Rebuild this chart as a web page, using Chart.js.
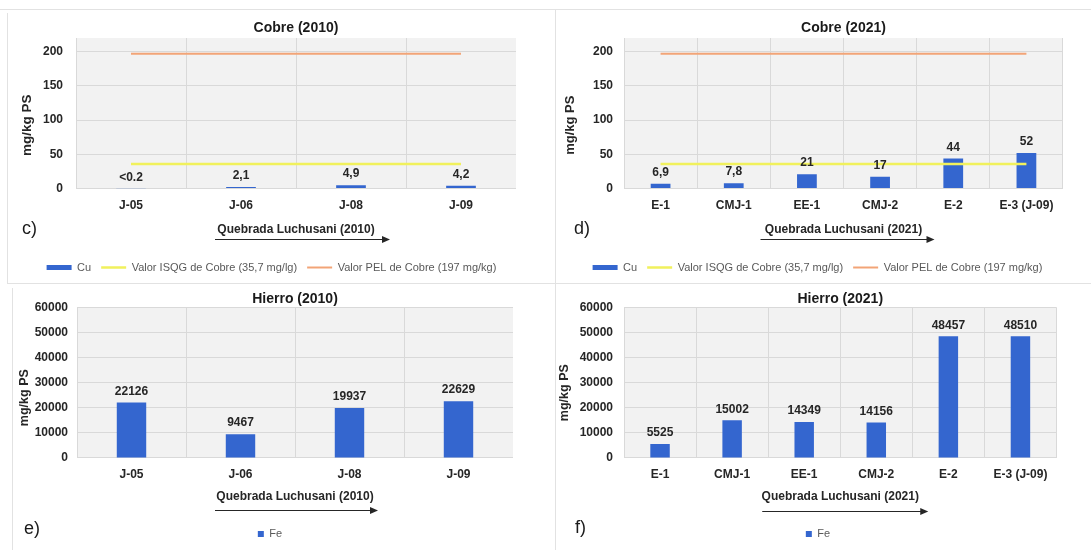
<!DOCTYPE html>
<html>
<head>
<meta charset="utf-8">
<script src="https://cdn.jsdelivr.net/npm/chart.js@4.4.1/dist/chart.umd.min.js"></script>
<style>
  body { margin: 0; background: #fff; width: 1091px; height: 550px; position: relative; overflow: hidden;
         font-family: "Liberation Sans", Arial, sans-serif; }
  canvas { position: absolute; }
  .line { position: absolute; background: #e2e2e2; }
  .tag { position: absolute; font-size: 18px; line-height: 20px; color: #1a1a1a; }
</style>
</head>
<body>
<div class="line" style="left:0;top:9px;width:1091px;height:1px"></div>
<div class="line" style="left:7px;top:13px;width:1px;height:270px"></div>
<div class="line" style="left:555px;top:9px;width:1px;height:541px"></div>
<div class="line" style="left:7px;top:283px;width:1084px;height:1px"></div>
<div class="line" style="left:12px;top:288px;width:1px;height:262px"></div>

<canvas id="cu2010" width="509" height="278" style="left:7px;top:12px"></canvas>
<canvas id="cu2021" width="506" height="278" style="left:557px;top:12px"></canvas>
<canvas id="fe2010" width="506" height="266" style="left:7px;top:284px"></canvas>
<canvas id="fe2021" width="500" height="266" style="left:557px;top:284px"></canvas>

<div class="tag" style="left:22px;top:218px">c)</div>
<div class="tag" style="left:574px;top:218px">d)</div>
<div class="tag" style="left:24px;top:518px">e)</div>
<div class="tag" style="left:575px;top:517px">f)</div>

<script>
// sampling sites
const sites2010 = ["J-05", "J-06", "J-08", "J-09"];
const sites2021 = ["E-1", "CMJ-1", "EE-1", "CMJ-2", "E-2", "E-3 (J-09)"];

// copper (mg/kg PS) and the printed labels
const cu2010 = [0.2, 2.1, 4.9, 4.2];
const cu2010Text = ["<0.2", "2,1", "4,9", "4,2"];
const cu2021 = [6.9, 7.8, 21, 17, 44, 52];
const cu2021Text = ["6,9", "7,8", "21", "17", "44", "52"];

// iron (mg/kg PS)
const fe2010 = [22126, 9467, 19937, 22629];
const fe2021 = [5525, 15002, 14349, 14156, 48457, 48510];

// guideline values for copper
const isqgCu = 35.7;
const pelCu = 197;

// y tick labels
const cuTicks = [0, 50, 100, 150, 200];
const feTicks = [0, 10000, 20000, 30000, 40000, 50000, 60000];

const FONT = '"Liberation Sans", Arial, sans-serif';
const BLUE = "#3466cf";

const plotBg = {
  id: "plotBg",
  beforeDraw(chart) {
    const { ctx, chartArea: a } = chart;
    ctx.save();
    ctx.fillStyle = "#f2f2f2";
    ctx.fillRect(a.left, a.top, a.right - a.left, a.bottom - a.top);
    ctx.restore();
  },
};

// numbers printed above the bars
const valueLabels = {
  id: "valueLabels",
  afterDatasetsDraw(chart, args, opts) {
    const { ctx } = chart;
    const meta = chart.getDatasetMeta(0);
    ctx.save();
    ctx.font = "bold 12px " + FONT;
    ctx.fillStyle = "#262626";
    ctx.textAlign = "center";
    ctx.textBaseline = "middle";
    meta.data.forEach((bar, i) => ctx.fillText(opts.text[i], bar.x, bar.y - 11));
    ctx.restore();
  },
};

// rotated y axis title, sits a bit below the middle like in the original
const yTitle = {
  id: "yTitle",
  afterDraw(chart, args, o) {
    const { ctx, chartArea: a } = chart;
    ctx.save();
    ctx.translate(o.x, (a.top + a.bottom) / 2 + o.dy);
    ctx.rotate(-Math.PI / 2);
    ctx.font = "bold " + o.size + "px " + FONT;
    ctx.fillStyle = "#262626";
    ctx.textAlign = "center";
    ctx.textBaseline = "middle";
    ctx.fillText("mg/kg PS", 0, 0);
    ctx.restore();
  },
};

// arrow under the x axis title
const arrow = {
  id: "arrow",
  afterDraw(chart, args, o) {
    const { ctx, chartArea: a } = chart;
    const cx = (a.left + a.right) / 2;
    const y = Math.round(a.bottom + o.dy) + 0.5;
    const x0 = cx + o.from, x1 = cx + o.to;
    ctx.save();
    ctx.strokeStyle = "#262626";
    ctx.fillStyle = "#262626";
    ctx.lineWidth = 1;
    ctx.beginPath();
    ctx.moveTo(x0, y);
    ctx.lineTo(x1 - 6, y);
    ctx.stroke();
    ctx.beginPath();
    ctx.moveTo(x1, y);
    ctx.lineTo(x1 - 8, y - 3.5);
    ctx.lineTo(x1 - 8, y + 3.5);
    ctx.closePath();
    ctx.fill();
    ctx.restore();
  },
};

function makeChart(id, c) {
  return new Chart(document.getElementById(id), {
    type: "bar",
    data: { labels: c.labels, datasets: c.datasets },
    options: {
      responsive: false,
      animation: false,
      layout: { padding: c.pad },
      plugins: {
        title: {
          display: true, text: c.title, fullSize: false, color: "#1a1a1a",
          font: { family: FONT, size: 14, weight: "bold" }, padding: c.titlePad,
        },
        legend: {
          position: "bottom",
          labels: Object.assign({
            color: "#595959", font: { family: FONT, size: 11 },
            sort: (a, b) => a.datasetIndex - b.datasetIndex,
          }, c.legend),
        },
        tooltip: { enabled: false },
        valueLabels: { text: c.text },
        yTitle: c.yTitle,
        arrow: c.arrow,
      },
      scales: {
        x: {
          grid: { offset: true, color: "#d9d9d9", drawTicks: false },
          border: { display: false },
          ticks: { color: "#262626", font: { family: FONT, size: 12, weight: "bold" }, padding: 9.5 },
          title: {
            display: true, text: c.xTitle, color: "#262626",
            font: { family: FONT, size: 12, weight: "bold" }, padding: c.xTitlePad,
          },
        },
        y: {
          min: 0, max: c.max,
          afterBuildTicks: (s) => { s.ticks = c.ticks.map((v) => ({ value: v })); },
          afterFit: (s) => { s.width = c.yWidth; },
          grid: { color: "#d9d9d9", drawTicks: false },
          border: { display: false },
          ticks: {
            color: "#262626", font: { family: FONT, size: 12, weight: "bold" }, padding: c.yPad,
            callback: (v) => String(v),
          },
        },
      },
    },
    plugins: [plotBg, valueLabels, yTitle, arrow],
  });
}

function cuSets(values, n) {
  return [
    { label: "Cu", data: values, backgroundColor: BLUE, pointStyle: "rect",
      barPercentage: 0.27, categoryPercentage: 1, order: 2 },
    { type: "line", label: "Valor ISQG de Cobre (35,7 mg/lg)", data: n.map(() => isqgCu),
      borderColor: "#f1f15c", backgroundColor: "#f1f15c", borderWidth: 2.5, pointRadius: 0,
      pointStyle: "line", order: 1 },
    { type: "line", label: "Valor PEL de Cobre (197 mg/kg)", data: n.map(() => pelCu),
      borderColor: "#f2a477", backgroundColor: "#f2a477", borderWidth: 2, pointRadius: 0,
      pointStyle: "line", order: 0 },
  ];
}

function feSets(values) {
  return [
    { label: "Fe", data: values, backgroundColor: BLUE, barPercentage: 0.27, categoryPercentage: 1 },
  ];
}

const cuLegend = { usePointStyle: true, pointStyleWidth: 25, boxHeight: 5, padding: 10 };
const feLegend = { boxWidth: 6, boxHeight: 6, padding: 8 };

makeChart("cu2010", {
  labels: sites2010, datasets: cuSets(cu2010, sites2010), text: cu2010Text,
  title: "Cobre (2010)", xTitle: "Quebrada Luchusani (2010)",
  max: 220, ticks: cuTicks, yWidth: 49, yPad: 13,
  pad: { left: 20, right: 0, top: 0, bottom: 7 },
  titlePad: { top: 7.6, bottom: 1.6 }, xTitlePad: { top: 0.4, bottom: 15.3 },
  legend: cuLegend, arrow: { dy: 50, from: -81, to: 94 },
  yTitle: { x: 20, dy: 12, size: 13.5 },
});

makeChart("cu2021", {
  labels: sites2021, datasets: cuSets(cu2021, sites2021), text: cu2021Text,
  title: "Cobre (2021)", xTitle: "Quebrada Luchusani (2021)",
  max: 220, ticks: cuTicks, yWidth: 52, yPad: 11,
  pad: { left: 15, right: 0, top: 0, bottom: 7 },
  titlePad: { top: 7.6, bottom: 1.6 }, xTitlePad: { top: 0.4, bottom: 15.3 },
  legend: cuLegend, arrow: { dy: 50, from: -83, to: 91 },
  yTitle: { x: 13, dy: 12, size: 13 },
});

makeChart("fe2010", {
  labels: sites2010, datasets: feSets(fe2010), text: fe2010.map(String),
  title: "Hierro (2010)", xTitle: "Quebrada Luchusani (2010)",
  max: 60000, ticks: feTicks, yWidth: 50, yPad: 9,
  pad: { left: 20, right: 0, top: 0, bottom: 0.5 },
  titlePad: { top: 6.6, bottom: 0 }, xTitlePad: { top: -1.5, bottom: 16.3 },
  legend: feLegend, arrow: { dy: 52, from: -80, to: 83 },
  yTitle: { x: 18, dy: 15, size: 12.5 },
});

makeChart("fe2021", {
  labels: sites2021, datasets: feSets(fe2021), text: fe2021.map(String),
  title: "Hierro (2021)", xTitle: "Quebrada Luchusani (2021)",
  max: 60000, ticks: feTicks, yWidth: 45, yPad: 11,
  pad: { left: 22, right: 0, top: 0, bottom: 0.5 },
  titlePad: { top: 6.6, bottom: 0 }, xTitlePad: { top: -1.5, bottom: 16.3 },
  legend: feLegend, arrow: { dy: 53, from: -78, to: 88 },
  yTitle: { x: 8, dy: 10, size: 12.5 },
});
</script>
</body>
</html>
